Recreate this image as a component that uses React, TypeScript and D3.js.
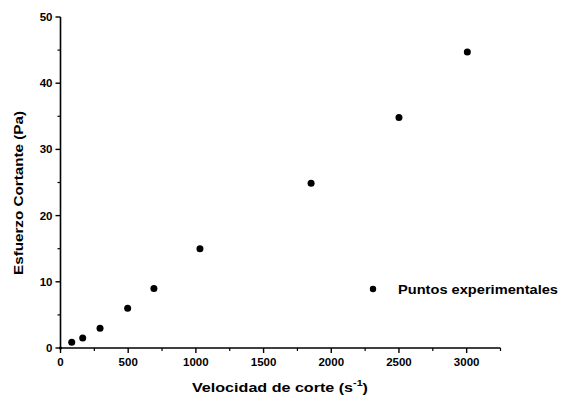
import React from "react";
import * as d3 from "d3";

// Shear rate (s^-1) and shear stress (Pa) measurements
const shearRate = [0, 83, 164, 292, 496, 690, 1030, 1851, 2500, 3005];
const shearStress = [0, 0.86, 1.5, 3.0, 6.0, 9.0, 15.0, 24.9, 34.8, 44.7];

const xMajorTicks = [0, 500, 1000, 1500, 2000, 2500, 3000];
const yMajorTicks = [0, 10, 20, 30, 40, 50];

const xTitle = "Velocidad de corte (s";
const yTitle = "Esfuerzo Cortante (Pa)";
const legendLabel = "Puntos experimentales";

const W = 561;
const H = 404;
const FONT = "'Liberation Sans', Arial, sans-serif";

export default function App() {
  const x = d3.scaleLinear().domain([0, 3250]).range([60.5, 500.5]);
  const y = d3.scaleLinear().domain([0, 50]).range([348, 17]);
  const xMinor = d3.range(250, 3251, 500);
  const yMinor = d3.range(5, 50, 10);
  const x0 = x(0);
  const y0 = y(0);

  return (
    <svg
      width={W}
      height={H}
      style={{ position: "absolute", left: 0, top: 0, background: "#fff" }}
      fontFamily={FONT}
    >
      {/* axes */}
      <line x1={x0} x2={x0} y1={y(50)} y2={y0} stroke="#000" strokeWidth={1.6} />
      <line x1={x0} x2={x(3250)} y1={y0} y2={y0} stroke="#000" strokeWidth={1.6} />

      {/* y ticks */}
      {yMajorTicks.map((v) => (
        <g key={"ym" + v}>
          <line x1={x0 - 5} x2={x0} y1={y(v)} y2={y(v)} stroke="#000" strokeWidth={1.4} />
          <text
            x={x0 - 8}
            y={y(v)}
            dy="0.35em"
            textAnchor="end"
            fontSize={11.5}
            fontWeight="bold"
          >
            {v}
          </text>
        </g>
      ))}
      {yMinor.map((v) => (
        <line key={"yn" + v} x1={x0 - 3} x2={x0} y1={y(v)} y2={y(v)} stroke="#000" strokeWidth={1.2} />
      ))}

      {/* x ticks */}
      {xMajorTicks.map((v) => (
        <g key={"xm" + v}>
          <line x1={x(v)} x2={x(v)} y1={y0} y2={y0 + 5} stroke="#000" strokeWidth={1.4} />
          <text
            x={x(v)}
            y={y0 + 18}
            textAnchor="middle"
            fontSize={11.5}
            fontWeight="bold"
          >
            {v}
          </text>
        </g>
      ))}
      {xMinor.map((v) => (
        <line key={"xn" + v} x1={x(v)} x2={x(v)} y1={y0} y2={y0 + 3} stroke="#000" strokeWidth={1.2} />
      ))}

      {/* data points */}
      {shearRate.map((r, i) => (
        <circle key={i} cx={x(r)} cy={y(shearStress[i])} r={i === 0 ? 1.5 : 3.5} fill="#000" />
      ))}

      {/* legend */}
      <circle cx={373} cy={289} r={3.2} fill="#000" />
      <text
        x={398}
        y={293.5}
        fontSize={13}
        fontWeight="bold"
        textLength={160}
        lengthAdjust="spacingAndGlyphs"
      >
        {legendLabel}
      </text>

      {/* axis titles */}
      <text
        x={192}
        y={392}
        fontSize={13.5}
        fontWeight="bold"
        textLength={176}
        lengthAdjust="spacingAndGlyphs"
      >
        {xTitle}
        <tspan dy={-6} fontSize={9}>-1</tspan>
        <tspan dy={6}>)</tspan>
      </text>
      <text
        transform={`translate(22.5,193) rotate(-90)`}
        textAnchor="middle"
        fontSize={13.5}
        fontWeight="bold"
        textLength={164}
        lengthAdjust="spacingAndGlyphs"
      >
        {yTitle}
      </text>
    </svg>
  );
}
